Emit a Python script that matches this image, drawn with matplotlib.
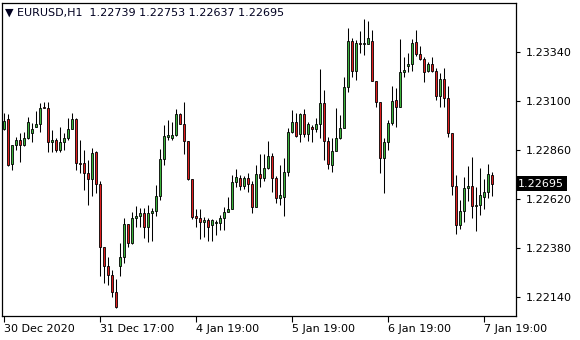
import numpy as np
import matplotlib.pyplot as plt

# EURUSD H1 candles
opens = [1.22963, 1.23012, 1.22791, 1.22884, 1.22909, 1.22884, 1.22919, 1.22944, 1.22973, 1.22988,
         1.23071, 1.23066, 1.22899, 1.22909, 1.22860, 1.22899, 1.22919, 1.22963, 1.23012, 1.22796,
         1.22796, 1.22747, 1.22718, 1.22850, 1.22693, 1.22385, 1.22292, 1.22248, 1.22164, 1.22292,
         1.22336, 1.22497, 1.22404, 1.22527, 1.22537, 1.22552, 1.22483, 1.22552, 1.22561, 1.22635,
         1.22816, 1.22924, 1.22919, 1.22934, 1.23036, 1.22988, 1.22904, 1.22718, 1.22537, 1.22527,
         1.22507, 1.22517, 1.22493, 1.22502, 1.22502, 1.22527, 1.22556, 1.22571, 1.22703, 1.22723,
         1.22684, 1.22723, 1.22693, 1.22581, 1.22742, 1.22723, 1.22772, 1.22831, 1.22723, 1.22625,
         1.22630, 1.22752, 1.22948, 1.22997, 1.22939, 1.23036, 1.22939, 1.22973, 1.22963, 1.22988,
         1.23090, 1.22904, 1.22786, 1.22855, 1.22919, 1.22968, 1.23169, 1.23394, 1.23247, 1.23384,
         1.23379, 1.23379, 1.23394, 1.23198, 1.23095, 1.22821, 1.22899, 1.22992, 1.23105, 1.23071,
         1.23242, 1.23271, 1.23281, 1.23389, 1.23330, 1.23306, 1.23247, 1.23281, 1.23247, 1.23125,
         1.23208, 1.23115, 1.22944, 1.22684, 1.22493, 1.22561, 1.22674, 1.22684, 1.22586, 1.22591,
         1.22630, 1.22655, 1.22739]
highs = [1.23041, 1.23036, 1.22884, 1.22924, 1.22944, 1.22948, 1.23022, 1.22992, 1.23051, 1.23090,
         1.23095, 1.23095, 1.22958, 1.22919, 1.22973, 1.22944, 1.23017, 1.23041, 1.23017, 1.22909,
         1.22860, 1.22811, 1.22870, 1.22855, 1.22708, 1.22385, 1.22336, 1.22272, 1.22228, 1.22404,
         1.22527, 1.22497, 1.22556, 1.22586, 1.22576, 1.22576, 1.22591, 1.22576, 1.22689, 1.22865,
         1.22983, 1.23007, 1.22997, 1.23061, 1.23041, 1.23095, 1.22904, 1.22718, 1.22571, 1.22571,
         1.22532, 1.22527, 1.22522, 1.22517, 1.22542, 1.22581, 1.22630, 1.22738, 1.22767, 1.22738,
         1.22733, 1.22747, 1.22708, 1.22786, 1.22840, 1.22840, 1.22904, 1.22845, 1.22733, 1.22786,
         1.22821, 1.22968, 1.23056, 1.23041, 1.23041, 1.23061, 1.22997, 1.22983, 1.23017, 1.23257,
         1.23154, 1.22924, 1.22919, 1.23066, 1.23031, 1.23218, 1.23458, 1.23409, 1.23399, 1.23443,
         1.23502, 1.23492, 1.23448, 1.23198, 1.23095, 1.22919, 1.23007, 1.23174, 1.23164, 1.23404,
         1.23316, 1.23335, 1.23404, 1.23448, 1.23370, 1.23316, 1.23291, 1.23316, 1.23262, 1.23237,
         1.23262, 1.23174, 1.22944, 1.22738, 1.22615, 1.22728, 1.22782, 1.22826, 1.22679, 1.22772,
         1.22718, 1.22792, 1.22753]
lows = [1.22958, 1.22781, 1.22762, 1.22860, 1.22801, 1.22880, 1.22914, 1.22899, 1.22973, 1.22948,
        1.23066, 1.22850, 1.22850, 1.22850, 1.22850, 1.22860, 1.22909, 1.22963, 1.22762, 1.22747,
        1.22664, 1.22590, 1.22635, 1.22649, 1.22243, 1.22208, 1.22198, 1.22140, 1.22086, 1.22243,
        1.22306, 1.22385, 1.22399, 1.22483, 1.22483, 1.22429, 1.22409, 1.22414, 1.22537, 1.22615,
        1.22786, 1.22909, 1.22909, 1.22929, 1.22988, 1.22840, 1.22713, 1.22522, 1.22483, 1.22424,
        1.22434, 1.22414, 1.22414, 1.22444, 1.22468, 1.22468, 1.22556, 1.22571, 1.22679, 1.22664,
        1.22669, 1.22654, 1.22552, 1.22581, 1.22679, 1.22708, 1.22767, 1.22654, 1.22600, 1.22591,
        1.22537, 1.22733, 1.22944, 1.22924, 1.22899, 1.22924, 1.22904, 1.22899, 1.22948, 1.22919,
        1.22811, 1.22767, 1.22752, 1.22855, 1.22914, 1.22968, 1.23144, 1.23218, 1.23203, 1.23335,
        1.23325, 1.23379, 1.23198, 1.23071, 1.22747, 1.22650, 1.22860, 1.22983, 1.22973, 1.23071,
        1.23218, 1.23242, 1.23247, 1.23320, 1.23301, 1.23193, 1.23242, 1.23242, 1.23105, 1.23071,
        1.23071, 1.22924, 1.22640, 1.22448, 1.22473, 1.22507, 1.22610, 1.22527, 1.22463, 1.22542,
        1.22571, 1.22625, 1.22637]
closes = [1.23002, 1.22786, 1.22884, 1.22909, 1.22884, 1.22919, 1.22997, 1.22963, 1.22988, 1.23066,
          1.23066, 1.22899, 1.22909, 1.22860, 1.22899, 1.22919, 1.22963, 1.23012, 1.22796, 1.22791,
          1.22747, 1.22718, 1.22845, 1.22693, 1.22385, 1.22292, 1.22248, 1.22164, 1.22091, 1.22336,
          1.22497, 1.22404, 1.22527, 1.22537, 1.22552, 1.22483, 1.22552, 1.22561, 1.22635, 1.22816,
          1.22929, 1.22934, 1.22934, 1.23036, 1.22988, 1.22904, 1.22718, 1.22532, 1.22527, 1.22507,
          1.22517, 1.22483, 1.22517, 1.22507, 1.22527, 1.22556, 1.22571, 1.22703, 1.22728, 1.22684,
          1.22723, 1.22693, 1.22581, 1.22742, 1.22723, 1.22772, 1.22831, 1.22723, 1.22625, 1.22640,
          1.22752, 1.22948, 1.22997, 1.22929, 1.23036, 1.22939, 1.22988, 1.22963, 1.22988, 1.23090,
          1.22904, 1.22791, 1.22855, 1.22919, 1.22968, 1.23169, 1.23394, 1.23247, 1.23384, 1.23379,
          1.23384, 1.23409, 1.23198, 1.23095, 1.22821, 1.22899, 1.22992, 1.23100, 1.23071, 1.23242,
          1.23252, 1.23281, 1.23384, 1.23330, 1.23306, 1.23242, 1.23281, 1.23247, 1.23125, 1.23208,
          1.23115, 1.22944, 1.22684, 1.22493, 1.22561, 1.22674, 1.22684, 1.22586, 1.22591, 1.22640,
          1.22655, 1.22742, 1.22695]

price_ticks = [1.23340, 1.23100, 1.22860, 1.22620, 1.22380, 1.22140]
time_pos = [0, 24, 48, 72, 96, 120]
time_labels = ['30 Dec 2020', '31 Dec 17:00', '4 Jan 19:00', '5 Jan 19:00', '6 Jan 19:00', '7 Jan 19:00']

o = np.array(opens)
h = np.array(highs)
l = np.array(lows)
c = np.array(closes)
x = np.arange(len(o))

fig = plt.figure(figsize=(5.8, 3.4), dpi=100)
ax = fig.add_axes([2 / 580, 24.5 / 340, 514 / 580, 313 / 340])

up = c >= o
cols = np.where(up, '#3cb43c', '#e01e1e')

ax.vlines(x, l, h, color='black', linewidth=0.75, zorder=1)
ax.bar(x, np.abs(c - o), bottom=np.minimum(o, c), width=0.5,
       color=cols, edgecolor='black', linewidth=0.6, zorder=2)

ax.set_xlim(-0.375, 128.125)
ax.set_ylim(1.22050, 1.23583)

for s in ax.spines.values():
    s.set_color('black')
    s.set_linewidth(0.9)

ax.yaxis.tick_right()
ax.set_yticks(price_ticks)
ax.set_yticklabels(['%.5f' % p for p in price_ticks])
ax.tick_params(axis='y', length=3, width=0.8, pad=4, labelsize=8, colors='black')

ax.set_xticks(time_pos)
ax.set_xticklabels(time_labels)
for t in ax.get_xticklabels():
    t.set_horizontalalignment('left')
ax.tick_params(axis='x', length=4, width=0.8, pad=2, labelsize=8, colors='black')

# current price label
ax.text(1.004, c[-1], '%.5f' % c[-1], transform=ax.get_yaxis_transform(),
        ha='left', va='center', fontsize=8, color='white',
        bbox=dict(facecolor='black', edgecolor='none', pad=1.8))

fig.text(5 / 580, 1 - 13 / 340,
         '\u25bc EURUSD,H1  %.5f %.5f %.5f %.5f' % (o[-1], h[-1], l[-1], c[-1]),
         ha='left', va='center', fontsize=8, color='#000020')

fig.savefig('out.png', dpi=100)
